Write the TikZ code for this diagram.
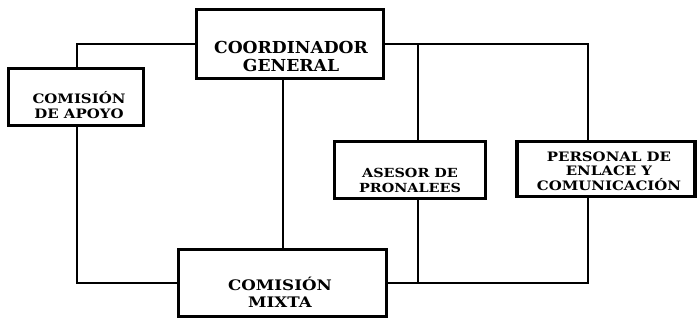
\documentclass[tikz,border=0pt]{standalone}
\usepackage{fontspec}
\setmainfont{DejaVu Serif}
\newfontfamily\widefont[FakeStretch=1.15]{DejaVu Serif}
\newfontfamily\midfont[FakeStretch=1.04]{DejaVu Serif}
\begin{document}
\begin{tikzpicture}[x=1pt,y=-1pt,
  box/.style={draw=black,line width=3.4pt,rectangle,inner sep=0pt},
  txt/.style={align=center,inner sep=0pt},
  conn/.style={draw=black,line width=1.2pt}]
\useasboundingbox[fill=white] (0,0) rectangle (698,320);
\node[box,minimum width=187pt,minimum height=69pt] (cg) at (290,44) {};
\node[box,minimum width=135pt,minimum height=57pt] (cda) at (76,97) {};
\node[box,minimum width=208pt,minimum height=67pt] (cm) at (282.5,283) {};
\node[box,minimum width=151pt,minimum height=57pt] (as) at (410,170) {};
\node[box,minimum width=178pt,minimum height=55pt] (pe) at (606,169) {};
\node[txt,font=\midfont\bfseries\fontsize{16.5}{18}\selectfont] (cgt) at (291,56) {COORDINADOR\\GENERAL};
\node[txt,font=\widefont\bfseries\fontsize{13}{15}\selectfont] (cdat) at (79,105) {COMISIÓN\\DE APOYO};
\node[txt,font=\widefont\bfseries\fontsize{14.5}{17}\selectfont] (cmt) at (280,292.5) {COMISIÓN\\MIXTA};
\node[txt,font=\widefont\bfseries\fontsize{12.5}{15}\selectfont] (ast) at (410,180.5) {ASESOR DE\\PRONALEES};
\node[txt,font=\widefont\bfseries\fontsize{13}{14.5}\selectfont] (pet) at (609,171) {PERSONAL DE\\ENLACE Y\\COMUNICACIÓN};
\coordinate (xa) at (418,0);
\coordinate (xp) at (588,0);
\coordinate (xc) at (283,0);
\coordinate (xd) at (77,0);
% left branch
\draw[conn] (cg.west) -- (cg.west -| xd) -- (xd |- cda.north);
\draw[conn] (xd |- cda.south) |- (cm.west);
% center
\draw[conn] (xc |- cg.south) -- (xc |- cm.north);
% right branch top
\draw[conn] (cg.east) -- (cg.east -| xp) -- (xp |- pe.north);
\draw[conn] (xa |- cg.east) -- (xa |- as.north);
% right branch bottom
\draw[conn] (xa |- as.south) -- (xa |- cm.east);
\draw[conn] (xp |- pe.south) -- (xp |- cm.east) -- (cm.east);
\end{tikzpicture}
\end{document}
